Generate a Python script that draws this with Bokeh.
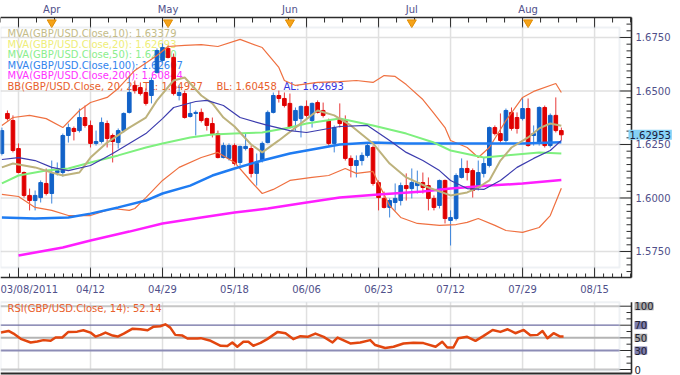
from bokeh.plotting import figure
from bokeh.models import (Range1d, LinearAxis, FixedTicker, Label, BoxAnnotation,
                          ColumnDataSource, NumeralTickFormatter)
from bokeh.layouts import column
from bokeh.embed import file_html
from bokeh.resources import INLINE
from bokeh.core.properties import value

FONT = "DejaVu Sans"

# ---------------- data ----------------
first_day = -3
opens = [1.6208, 1.6395, 1.6362, 1.6231, 1.6119, 1.6012, 1.5988, 1.6002, 1.6068, 1.6021,
         1.6119, 1.6119, 1.6292, 1.6325, 1.6315, 1.6376, 1.6339, 1.6255, 1.6264, 1.6348,
         1.6292, 1.6259, 1.6315, 1.6400, 1.6526, 1.6516, 1.6493, 1.6479, 1.6586, 1.6643,
         1.6699, 1.6657, 1.6479, 1.6488, 1.6381, 1.6395, 1.6400, 1.6371, 1.6348, 1.6301,
         1.6189, 1.6185, 1.6245, 1.6166, 1.6231, 1.6231, 1.6115, 1.6175, 1.6259, 1.6400,
         1.6479, 1.6465, 1.6442, 1.6362, 1.6371, 1.6428, 1.6362, 1.6446, 1.6409, 1.6362,
         1.6255, 1.6371, 1.6362, 1.6185, 1.6152, 1.6175, 1.6199, 1.6236, 1.6072, 1.5998,
         1.5956, 1.5979, 1.5988, 1.6058, 1.6044, 1.6058, 1.6072, 1.6058, 1.5998, 1.5965,
         1.6082, 1.5895, 1.5904, 1.6096, 1.6138, 1.6128, 1.6049, 1.6115, 1.6152, 1.6329,
         1.6301, 1.6269, 1.6400, 1.6376, 1.6371, 1.6418, 1.6292, 1.6255, 1.6423, 1.6245,
         1.6386, 1.6315]
highs = [1.6329, 1.6409, 1.6386, 1.6255, 1.6124, 1.6044, 1.6035, 1.6082, 1.6138, 1.6175,
         1.6166, 1.6301, 1.6348, 1.6334, 1.6418, 1.6432, 1.6362, 1.6315, 1.6376, 1.6362,
         1.6301, 1.6325, 1.6400, 1.6572, 1.6549, 1.6540, 1.6512, 1.6563, 1.6699, 1.6722,
         1.6713, 1.6675, 1.6526, 1.6502, 1.6446, 1.6409, 1.6418, 1.6376, 1.6376, 1.6315,
         1.6259, 1.6255, 1.6255, 1.6245, 1.6301, 1.6245, 1.6208, 1.6264, 1.6409, 1.6493,
         1.6502, 1.6493, 1.6488, 1.6423, 1.6432, 1.6456, 1.6446, 1.6456, 1.6446, 1.6371,
         1.6339, 1.6442, 1.6386, 1.6199, 1.6199, 1.6213, 1.6255, 1.6245, 1.6082, 1.6030,
         1.5998, 1.6068, 1.6072, 1.6115, 1.6138, 1.6128, 1.6119, 1.6096, 1.6012, 1.6086,
         1.6086, 1.5942, 1.6115, 1.6185, 1.6175, 1.6138, 1.6175, 1.6189, 1.6334, 1.6339,
         1.6395, 1.6418, 1.6423, 1.6400, 1.6470, 1.6465, 1.6339, 1.6428, 1.6432, 1.6395,
         1.6470, 1.6329]
lows = [1.6199, 1.6362, 1.6213, 1.6115, 1.6002, 1.5942, 1.5942, 1.5979, 1.6012, 1.5974,
        1.6105, 1.6100, 1.6259, 1.6269, 1.6306, 1.6329, 1.6236, 1.6245, 1.6255, 1.6236,
        1.6166, 1.6231, 1.6306, 1.6395, 1.6488, 1.6479, 1.6432, 1.6442, 1.6582, 1.6633,
        1.6652, 1.6479, 1.6456, 1.6371, 1.6376, 1.6292, 1.6353, 1.6315, 1.6283, 1.6185,
        1.6185, 1.6175, 1.6152, 1.6152, 1.6222, 1.6096, 1.6058, 1.6166, 1.6255, 1.6395,
        1.6446, 1.6423, 1.6325, 1.6315, 1.6283, 1.6376, 1.6329, 1.6395, 1.6376, 1.6245,
        1.6213, 1.6329, 1.6175, 1.6096, 1.6096, 1.6152, 1.6189, 1.6058, 1.5942, 1.5951,
        1.5909, 1.5941, 1.5965, 1.5988, 1.5998, 1.6021, 1.6021, 1.5942, 1.5942, 1.5951,
        1.5881, 1.5778, 1.5895, 1.6091, 1.6082, 1.6002, 1.6035, 1.6096, 1.6143, 1.6292,
        1.6259, 1.6259, 1.6315, 1.6301, 1.6362, 1.6240, 1.6245, 1.6245, 1.6236, 1.6236,
        1.6306, 1.6269]
closes = [1.6315, 1.6371, 1.6222, 1.6119, 1.6012, 1.5988, 1.6012, 1.6072, 1.6021, 1.6115,
          1.6128, 1.6292, 1.6329, 1.6311, 1.6376, 1.6339, 1.6255, 1.6264, 1.6353, 1.6278,
          1.6264, 1.6315, 1.6395, 1.6493, 1.6502, 1.6488, 1.6442, 1.6549, 1.6689, 1.6703,
          1.6657, 1.6488, 1.6493, 1.6376, 1.6395, 1.6400, 1.6362, 1.6339, 1.6301, 1.6189,
          1.6245, 1.6245, 1.6161, 1.6241, 1.6241, 1.6115, 1.6161, 1.6255, 1.6400, 1.6479,
          1.6465, 1.6432, 1.6329, 1.6409, 1.6428, 1.6386, 1.6442, 1.6400, 1.6386, 1.6255,
          1.6329, 1.6348, 1.6185, 1.6152, 1.6175, 1.6199, 1.6245, 1.6068, 1.6002, 1.5956,
          1.5988, 1.5998, 1.6058, 1.6044, 1.6072, 1.6072, 1.6049, 1.5998, 1.5956, 1.6082,
          1.5904, 1.5909, 1.6105, 1.6138, 1.6119, 1.6035, 1.6119, 1.6161, 1.6329, 1.6301,
          1.6269, 1.6409, 1.6325, 1.6325, 1.6418, 1.6245, 1.6301, 1.6423, 1.6245, 1.6386,
          1.6315, 1.62953]

ma10_x = [-3, -1, 3, 6, 8, 11, 13, 16, 20, 23, 25, 28, 30, 33, 35, 37, 39, 42, 44, 47, 50, 54, 57,
          60, 64, 67, 70, 74, 78, 81, 83, 85, 87, 89, 92, 94, 96, 98]
ma10_y = [1.6143, 1.6161, 1.6143, 1.6119, 1.6105, 1.6119, 1.6189, 1.6259, 1.6329, 1.6376, 1.6456,
          1.6549, 1.6563, 1.6479, 1.6442, 1.6376, 1.6334, 1.6250, 1.6213, 1.6269, 1.6329, 1.6409,
          1.6386, 1.6339, 1.6255, 1.6161, 1.6096, 1.6049, 1.6012, 1.6026, 1.6049, 1.6082, 1.6175,
          1.6236, 1.6283, 1.6325, 1.6348, 1.63379]
ma20_x = [-3, 0, 3, 6, 9, 13, 17, 20, 23, 26, 28, 32, 34, 37, 40, 45, 49, 52, 58, 63, 67, 70, 73,
          76, 78, 81, 84, 87, 90, 93, 96, 98]
ma20_y = [1.6180, 1.6189, 1.6175, 1.6143, 1.6128, 1.6152, 1.6208, 1.6255, 1.6301, 1.6371, 1.6423,
          1.6451, 1.6456, 1.6432, 1.6376, 1.6339, 1.6315, 1.6306, 1.6334, 1.6339, 1.6269, 1.6213,
          1.6175, 1.6128, 1.6082, 1.6044, 1.6040, 1.6082, 1.6143, 1.6185, 1.6222, 1.62693]
ma50_x = [-3, 0, 5, 9, 13, 18, 23, 26, 31, 35, 39, 44, 49, 52, 58, 64, 70, 75, 78, 84, 88, 94, 98]
ma50_y = [1.6068, 1.6105, 1.6128, 1.6138, 1.6166, 1.6199, 1.6236, 1.6255, 1.6283, 1.6297, 1.6301,
          1.6306, 1.6329, 1.6348, 1.6371, 1.6339, 1.6301, 1.6259, 1.6222, 1.6189, 1.6199, 1.6213,
          1.62080]
ma100_x = [-3, 3, 9, 13, 18, 23, 26, 31, 35, 39, 44, 49, 52, 58, 64, 70, 78, 85, 91, 98]
ma100_y = [1.5909, 1.5904, 1.5909, 1.5927, 1.5956, 1.5988, 1.6021, 1.6058, 1.6105, 1.6138, 1.6175,
           1.6208, 1.6222, 1.6250, 1.6259, 1.6255, 1.6255, 1.6255, 1.6255, 1.62607]
ma200_x = [0, 8, 13, 20, 26, 33, 39, 45, 52, 58, 65, 73, 78, 85, 91, 98]
ma200_y = [1.5731, 1.5769, 1.5801, 1.5843, 1.5881, 1.5909, 1.5932, 1.5951, 1.5979, 1.6002, 1.6016,
           1.6030, 1.6044, 1.6058, 1.6068, 1.60844]
bb_up_x = [-3, -1, 2, 5, 8, 11, 13, 16, 18, 21, 25, 27, 30, 33, 36, 40, 44, 47, 48, 50, 54, 58, 61,
           64, 66, 68, 70, 73, 75, 77, 78, 81, 83, 85, 88, 91, 93, 97, 98]
bb_up_y = [1.6339, 1.6376, 1.6386, 1.6371, 1.6329, 1.6409, 1.6446, 1.6470, 1.6512, 1.6596, 1.6666,
           1.6708, 1.6713, 1.6717, 1.6708, 1.6741, 1.6703, 1.6610, 1.6549, 1.6526, 1.6540, 1.6544,
           1.6549, 1.6540, 1.6572, 1.6568, 1.6530, 1.6460, 1.6395, 1.6329, 1.6269, 1.6236, 1.6189,
           1.6236, 1.6362, 1.6470, 1.6498, 1.6535, 1.64927]
bb_lo_x = [-3, 0, 3, 6, 9, 13, 17, 20, 21, 23, 26, 29, 33, 36, 39, 42, 44, 46, 49, 53, 56, 59, 61,
           64, 65, 67, 69, 72, 76, 79, 81, 83, 86, 88, 91, 94, 96, 98]
bb_lo_y = [1.6017, 1.6007, 1.5956, 1.5942, 1.5918, 1.5918, 1.5951, 1.5942, 1.5951, 1.6002, 1.6082,
           1.6143, 1.6189, 1.6213, 1.6166, 1.6077, 1.6021, 1.6040, 1.6082, 1.6096, 1.6105, 1.6138,
           1.6115, 1.6124, 1.6068, 1.5965, 1.5909, 1.5881, 1.5872, 1.5876, 1.5886, 1.5904, 1.5872,
           1.5848, 1.5839, 1.5862, 1.5918, 1.60458]

rsi_x = [-3.2, -1.8, -0.9, 0.4, 2.2, 3.4, 4.5, 5.8, 6.7, 7.9, 9.0, 10.6, 11.7, 13.0, 13.9, 14.8,
         15.7, 17.0, 17.9, 19.0, 20.6, 22.0, 23.3, 24.4, 25.6, 26.5, 27.4, 28.3, 29.6, 30.5, 32.3,
         32.9, 34.7, 36.5, 37.7, 38.6, 39.5, 40.6, 41.5, 42.4, 43.7, 44.9, 46.8, 48.2, 49.6, 50.9,
         52.2, 53.6, 55.1, 56.7, 57.6, 59.9, 61.7, 63.5, 64.4, 66.2, 67.7, 69.5, 71.3, 73.1, 75.3,
         76.5, 77.4, 78.5, 79.4, 81.0, 82.5, 83.9, 85.6, 87.0, 88.3, 89.7, 91.2, 92.4, 93.7, 94.6,
         95.5, 96.6, 97.8, 98.4]
rsi_v = [58.3, 60.9, 56.7, 48.4, 42.7, 44.2, 46.4, 45.3, 50.5, 50.5, 59.4, 59.8, 62.0, 58.3, 52.0,
         54.7, 58.3, 53.6, 52.0, 56.7, 64.5, 63.6, 62.0, 67.7, 68.3, 71.4, 66.1, 54.7, 53.6, 48.9,
         48.9, 49.5, 45.3, 37.5, 37.0, 42.7, 35.9, 43.8, 43.8, 37.5, 42.2, 48.0, 59.4, 57.3, 48.0,
         52.7, 51.6, 56.7, 51.6, 42.7, 50.5, 41.1, 42.7, 46.4, 38.6, 33.9, 35.9, 41.1, 42.2, 41.7,
         35.9, 43.8, 34.8, 34.8, 49.5, 51.6, 45.3, 52.7, 62.5, 59.4, 63.6, 57.3, 62.5, 54.2, 54.7,
         60.9, 49.5, 57.3, 52.0, 52.14]

grid_days = [0, 13, 26, 39, 52, 65, 78, 91, 104]
date_labels = ["03/08/2011", "04/12", "04/29", "05/18", "06/06", "06/23", "07/12", "07/29", "08/15"]
month_days = [6, 27, 49, 71, 92]
month_labels = ["Apr", "May", "Jun", "Jul", "Aug"]
price_ticks = [1.575, 1.600, 1.625, 1.650, 1.675]
rsi_ticks = [0, 30, 50, 70, 100]
rsi_minor_ticks = [10, 20, 40, 60, 80, 90]
rsi_tick_labels = ["0", "30", "50", "70", "100"]
rsi_levels = [100, 70, 50, 30, 0]
last_close_text = "1.62953"
legend_texts = ["MVA(GBP/USD.Close,10): 1.63379",
                "MVA(GBP/USD.Close,20): 1.62693",
                "MVA(GBP/USD.Close,50): 1.62080",
                "MVA(GBP/USD.Close,100): 1.62607",
                "MVA(GBP/USD.Close,200): 1.60844",
                "BB(GBP/USD.Close, 20, 2): TL: 1.64927",
                "BL: 1.60458",
                "AL: 1.62693"]
rsi_title = "RSI(GBP/USD.Close, 14): 52.14"

# ---------------- layout constants (pixels -> data) ----------------
W = 680
X0 = -3.25            # left edge of the canvas / inner box
XIN = 108.5           # right edge of inner box
BOX_W = 619           # inner box width in px
AX_PX = 631           # right axis line position in px
DPX = (XIN - X0) / BOX_W
XAX = X0 + AX_PX * DPX
X1 = X0 + W * DPX

MAIN_H = 298
BOX_TOP_PX, BOX_H = 27, 240
STRIP = 10
PT, PB = 1.67967, 1.56752
PPX = (PT - PB) / BOX_H
YT = PT + BOX_TOP_PX * PPX
YB = PT - (MAIN_H - BOX_TOP_PX) * PPX
YTOPAX = PT + STRIP * PPX
YBOTAX = PB - STRIP * PPX

AXIS_C = "#2c2c2c"
LABEL_C = "#50508a"
GRID_C = "#e0e0e0"
BOX_C = "#c6cfdb"


def label_axis(ax, show_labels=True):
    ax.axis_line_color = None
    ax.major_tick_line_color = None
    ax.minor_tick_line_color = None
    ax.major_tick_in = 0
    ax.major_tick_out = 0
    ax.minor_tick_in = 0
    ax.minor_tick_out = 0
    ax.major_label_text_font = FONT
    ax.major_label_text_font_size = "10px"
    ax.major_label_text_color = LABEL_C if show_labels else None


def base_fig(height, yr):
    f = figure(width=W, height=height, x_range=Range1d(X0, X1), y_range=yr,
               x_axis_location=None, y_axis_location=None, output_backend="svg",
               toolbar_location=None, tools="", min_border=0, min_border_left=0,
               min_border_right=0, min_border_top=0, min_border_bottom=0,
               outline_line_color=None, background_fill_color="white",
               border_fill_color="white")
    f.xgrid.visible = False
    f.ygrid.visible = False
    return f


def x_ticks(f, xs, y, dy):
    f.segment(x0=xs, x1=xs, y0=[y] * len(xs), y1=[y + dy] * len(xs),
              line_color=AXIS_C, line_width=1)


def y_ticks(f, ys, x, length):
    f.segment(x0=[x] * len(ys), x1=[x - length * DPX] * len(ys), y0=ys, y1=ys,
              line_color=AXIS_C, line_width=1)


p1 = base_fig(MAIN_H, Range1d(YB, YT))

# grid lines (through the tick strips, like the reference's long ticks)
p1.segment(x0=grid_days, x1=grid_days, y0=[YBOTAX] * len(grid_days), y1=[YTOPAX] * len(grid_days),
           line_color=GRID_C, line_width=1.5)
p1.segment(x0=[X0] * len(price_ticks), x1=[XAX] * len(price_ticks), y0=price_ticks, y1=price_ticks,
           line_color=GRID_C, line_width=1.5)

# header texts (under the candles)
lx_px = [7, 7, 7, 7, 7, 7, 216, 283]
ly_px = [6, 16.5, 27, 37.5, 48, 58.5, 58.5, 58.5]
lcol = ["#c4bc88", "#eeee78", "#8cee8c", "#3384ee", "#ff33ff", "#e8602c", "#e8602c", "#3434e0"]
p1.text(x=[X0 + px * DPX for px in lx_px], y=[PT - py * PPX for py in ly_px], text=legend_texts,
        text_color=lcol, text_font=value(FONT), text_font_size="10px", text_baseline="middle")

# candles
days = list(range(first_day, first_day + len(closes)))
up = dict(x=[], top=[], bottom=[], hi=[], lo=[])
dn = dict(x=[], top=[], bottom=[], hi=[], lo=[])
for d, o, h, l, c in zip(days, opens, highs, lows, closes):
    tgt = up if c >= o else dn
    tgt["x"].append(d)
    tgt["top"].append(max(o, c))
    tgt["bottom"].append(min(o, c))
    tgt["hi"].append(h)
    tgt["lo"].append(l)
for data, col, wcol in ((up, "#1262c8", "#3d86dc"), (dn, "#e00000", "#e83a3a")):
    src = ColumnDataSource(data)
    p1.segment(x0="x", y0="lo", x1="x", y1="hi", source=src, line_color=wcol, line_width=1)
    p1.vbar(x="x", width=0.66, top="top", bottom="bottom", source=src,
            fill_color=col, line_color=col, line_width=1)

# indicator lines
p1.line(bb_up_x, bb_up_y, line_color="#ef7040", line_width=1.2)
p1.line(bb_lo_x, bb_lo_y, line_color="#ef7040", line_width=1.2)
p1.line(ma200_x, ma200_y, line_color="#ff1eff", line_width=2.5)
p1.line(ma100_x, ma100_y, line_color="#1f7cf2", line_width=2.5)
p1.line(ma50_x, ma50_y, line_color="#7ef07e", line_width=2)
p1.line(ma10_x, ma10_y, line_color="#bdb27c", line_width=2)
p1.line(ma20_x, ma20_y, line_color="#3c3cae", line_width=1.2)

p1.add_layout(BoxAnnotation(left=X0, right=XIN, bottom=PB, top=PT, fill_color=None,
                            line_color=BOX_C, line_width=2))

# axis frames: lines and ticks
bottom_minor = [g + k * 13 / 8 for g in grid_days for k in range(-7, 8)
                if k != 0 and X0 < g + k * 13 / 8 < XAX]
bottom_minor = sorted(set(round(m, 4) for m in bottom_minor))
top_minor = [g + k * 13 / 4 for g in grid_days for k in range(-3, 4)
             if k != 0 and X0 <= g + k * 13 / 4 < XAX]
top_minor = sorted(set(round(m, 4) for m in top_minor))
price_minor = []
k = 0
while 1.5625 + k * 0.003125 < YTOPAX:
    v = 1.5625 + k * 0.003125
    if v > YBOTAX and all(abs(v - t) > 1e-6 for t in price_ticks):
        price_minor.append(v)
    k += 1

p1.segment(x0=[X0, X0, XAX], x1=[XAX, XAX, XAX], y0=[YTOPAX, YBOTAX, YBOTAX],
           y1=[YTOPAX, YBOTAX, YTOPAX], line_color=AXIS_C, line_width=1.6)
x_ticks(p1, grid_days, YTOPAX, -10 * PPX)
x_ticks(p1, top_minor, YTOPAX, -5 * PPX)
x_ticks(p1, grid_days, YBOTAX, 10 * PPX)
x_ticks(p1, bottom_minor, YBOTAX, 4 * PPX)
y_ticks(p1, price_ticks, XAX, 12)
y_ticks(p1, price_minor, XAX, 5)

# axes (labels only; fixed inside the frame)
xb = LinearAxis(fixed_location=YBOTAX, bounds=(X0, XAX), ticker=FixedTicker(ticks=grid_days),
                major_label_overrides={d: (t if j > 0 else "") for j, (d, t) in
                                       enumerate(zip(grid_days, date_labels))},
                major_label_standoff=6)
label_axis(xb)
p1.add_layout(xb, "below")

ya = LinearAxis(fixed_location=XAX, bounds=(YBOTAX, YTOPAX), ticker=FixedTicker(ticks=price_ticks),
                formatter=NumeralTickFormatter(format="0.0000"), major_label_standoff=4)
label_axis(ya)
p1.add_layout(ya, "right")

# month markers and labels
tri_y = PT + 5 * PPX
p1.scatter(month_days, [tri_y] * len(month_days), marker="inverted_triangle", size=9,
           fill_color="#f5a31a", line_color="#e38d00")
for d, m in zip(month_days, month_labels):
    p1.add_layout(Label(x=d, y=YTOPAX, y_offset=3, text=m, text_align="center",
                        text_baseline="bottom", text_font=FONT, text_font_size="10px",
                        text_color=LABEL_C))
p1.add_layout(Label(x=X0, y=YBOTAX, y_offset=-6, text=date_labels[0], text_align="left",
                    text_baseline="top", text_font=FONT, text_font_size="10px", text_color=LABEL_C))

p1.add_layout(Label(x=XAX, y=closes[-1], x_offset=-3, text=last_close_text, text_align="left",
                    text_baseline="middle", text_font=FONT, text_font_size="10px",
                    text_color="#1a1a3a", background_fill_color="#86d2f6", padding=1))

# ---------------- RSI panel ----------------
RH = 375 - MAIN_H
R100_PX, R0_PX = 7.7, 71.0
RPU = (R0_PX - R100_PX) / 100.0
R_TOP = 100 + R100_PX / RPU
R_BOT = -(RH - R0_PX) / RPU
RBOX_T = 100 + (R100_PX - 3.7) / RPU
RBOX_B = -1 / RPU
RLINE = -4 / RPU

p2 = base_fig(RH, Range1d(R_BOT, R_TOP))
p2.segment(x0=grid_days, x1=grid_days, y0=[RBOX_B] * len(grid_days), y1=[RBOX_T] * len(grid_days),
           line_color=GRID_C, line_width=1.5)
p2.segment(x0=[X0] * 5, y0=rsi_levels, x1=[XIN] * 5, y1=rsi_levels,
           line_color=["#c6c6c6", "#6c6ca2", "#b4b4b4", "#8c8cb6", "#c6c6c6"],
           line_width=[2, 1.3, 2, 2, 2])
p2.add_layout(BoxAnnotation(left=X0, right=XIN, bottom=RBOX_B, top=RBOX_T, fill_color=None,
                            line_color=BOX_C, line_width=2))
p2.line(rsi_x, rsi_v, line_color="#e2460f", line_width=2.5, line_join="round")
p2.text(x=[X0 + 7 * DPX], y=[RBOX_T - 6 / RPU], text=[rsi_title], text_color="#e8602c",
        text_font=value(FONT), text_font_size="10px", text_baseline="middle")
p2.segment(x0=[X0, XAX], x1=[XAX, XAX], y0=[RLINE, RLINE], y1=[RLINE, RBOX_T],
           line_color=AXIS_C, line_width=[2, 1.6])
y_ticks(p2, rsi_ticks, XAX, 12)
y_ticks(p2, rsi_minor_ticks, XAX, 5)

ra = LinearAxis(fixed_location=XAX, bounds=(RLINE, RBOX_T), ticker=FixedTicker(ticks=rsi_ticks))
label_axis(ra, show_labels=False)
p2.add_layout(ra, "right")

rsi_bg = ["#ffffff", "#7c7cac", "#a8a8a8", "#7c7cac", "#a8a8a8"]
for t, lab, bg in zip(rsi_ticks, rsi_tick_labels, rsi_bg):
    p2.add_layout(Label(x=XAX, y=t, x_offset=3, text=lab, text_align="left", text_baseline="middle",
                        text_font=FONT, text_font_size="10px", text_color="#202030",
                        background_fill_color=bg, padding=0))

layout = column(p1, p2, spacing=0)
open("out.html", "w").write(file_html(layout, INLINE))
